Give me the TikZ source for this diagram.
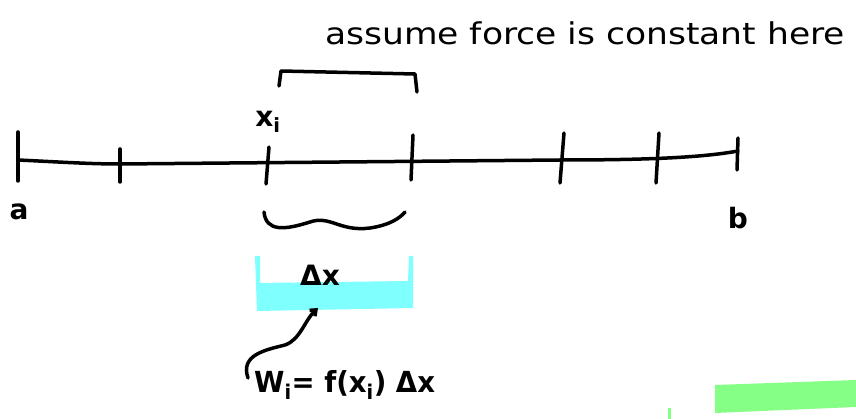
\documentclass[tikz,border=0pt]{standalone}
\usepackage{fontspec}
\setmainfont{DejaVu Sans}
\usetikzlibrary{arrows.meta}
\definecolor{hlcyan}{HTML}{80FFFF}
\definecolor{hlgreen}{HTML}{85FF85}
\tikzset{
  ink/.style={line width=3.5pt, line cap=round, line join=round, black},
  tickmark/.style={ink},
  lbl/.style={inner sep=0pt, font=\fontsize{28}{30}\selectfont\bfseries},
}
\begin{document}
\begin{tikzpicture}[x=1pt,y=-1pt]
\useasboundingbox (0,0) rectangle (856,419);
% highlights
\fill[hlcyan] (255,256) -- (260,256) -- (260,283) -- (408,281) -- (409,256) -- (413,256) -- (413,308) -- (257,311) -- cycle;
\fill[hlgreen] (715,385) -- (856,380) -- (856,407) -- (715,413) -- cycle;
\fill[hlgreen] (668,408) rectangle (671,419);
% number line
\coordinate (A) at (18,160);
\coordinate (B) at (738,151);
\draw[ink] (A) .. controls (60,162) and (90,164) .. (120,164) -- (560,160) .. controls (640,160) and (700,158) .. (B);
% ticks
\draw[tickmark] (18,132) -- (18,181);
\draw[tickmark] (120,149) -- (120,182);
\draw[tickmark] (269,147) -- (266,184);
\draw[tickmark] (413,135) -- (411,180);
\draw[tickmark] (564,133) -- (560,183);
\draw[tickmark] (659,133) -- (656,183);
\draw[tickmark] (738,138) -- (737,170);
% labels
\node[lbl] (a) at (19,212) {a};
\node[lbl] (b) at (738,218) {b};
\node[lbl] (xi) at (268,122) {x\textsubscript{i}};
% bracket above
\draw[ink] (279,86) -- (281,71) -- (415,74) -- (417,92);
% brace below
\draw[ink] (264,212) .. controls (266,232) and (285,230) .. (310,222) .. controls (330,215) and (340,232) .. (370,228) .. controls (390,225) and (400,218) .. (405,212);
% delta x
\node[lbl] (dx) at (320,275) {Δx};
% formula
\node[lbl, anchor=west, font=\fontsize{29}{31}\selectfont\bfseries, xscale=0.95] (w) at (254,385) {W\textsubscript{i}= f(x\textsubscript{i}) Δx};
\draw[ink, -{Straight Barb[length=5pt,width=8pt]}] (248,378) .. controls (240,355) and (265,350) .. (285,345) .. controls (300,340) and (305,320) .. (318,308);
% top text
\node[inner sep=0pt, anchor=west, font=\fontsize{30}{32}\selectfont, xscale=1.15] (top) at (325,33) {assume force is constant here};
\end{tikzpicture}
\end{document}
